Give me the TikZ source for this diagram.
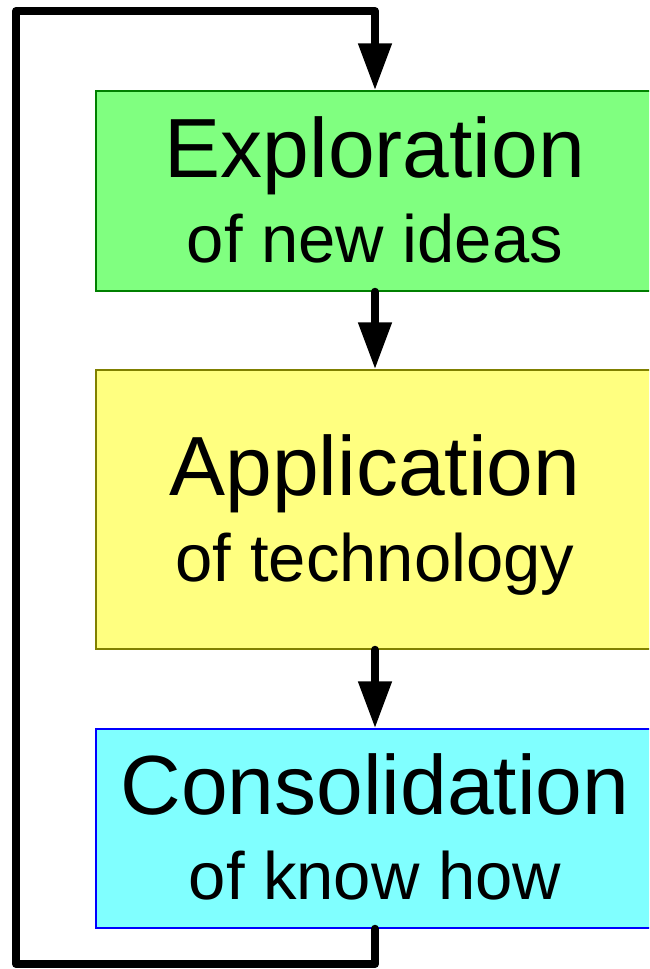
\documentclass[tikz,border=0pt]{standalone}
\usepackage{fontspec}
\setmainfont{Liberation Sans}
\usetikzlibrary{arrows.meta, positioning}
\definecolor{explgreen}{RGB}{128, 255, 128}
\definecolor{explborder}{RGB}{0, 128, 0}
\definecolor{applyellow}{RGB}{255, 255, 128}
\definecolor{applborder}{RGB}{128, 128, 0}
\definecolor{conscyan}{RGB}{128, 255, 255}
\definecolor{consborder}{RGB}{0, 0, 255}

\begin{document}
\begin{tikzpicture}[x=1pt, y=-1pt,
    stagebox/.style={rectangle, inner sep=0pt, minimum width=558pt, line width=1.5pt},
    bigword/.style={anchor=base, inner sep=0pt, font=\fontsize{84}{84}\selectfont},
    smallword/.style={anchor=base, inner sep=0pt, font=\fontsize{67}{67}\selectfont},
    flow/.style={line width=8pt, line cap=round, line join=round, -{Triangle[length=47pt, width=32pt]}}]
  \useasboundingbox (0, 0) rectangle (649, 969);
  \clip (0, 0) rectangle (649, 969);

  % Stage 1
  \node[stagebox, draw=explborder, fill=explgreen, minimum height=200pt] (explore) at (375, 191) {};
  \node[bigword] (exploreA) at (375, 177) {Exploration};
  \node[smallword] (exploreB) at (375, 262) {of new ideas};

  % Stage 2
  \node[stagebox, draw=applborder, fill=applyellow, minimum height=279pt] (apply) at (375, 509.5) {};
  \node[bigword] (applyA) at (375, 495) {Application};
  \node[smallword] (applyB) at (375, 581) {of technology};

  % Stage 3
  \node[stagebox, draw=consborder, fill=conscyan, minimum height=199pt] (consol) at (375, 828.5) {};
  \node[bigword] (consolA) at (375, 814) {Consolidation};
  \node[smallword] (consolB) at (375, 899) {of know how};

  \draw[flow] (explore.south) -- (apply.north);
  \draw[flow] (apply.south) -- (consol.north);

  % Back to the start
  \coordinate (loopBL) at (16, 964);
  \coordinate (loopTL) at (16, 11);
  \draw[flow] (consol.south) |- (loopBL) -- (loopTL) -| (explore.north);
\end{tikzpicture}
\end{document}
